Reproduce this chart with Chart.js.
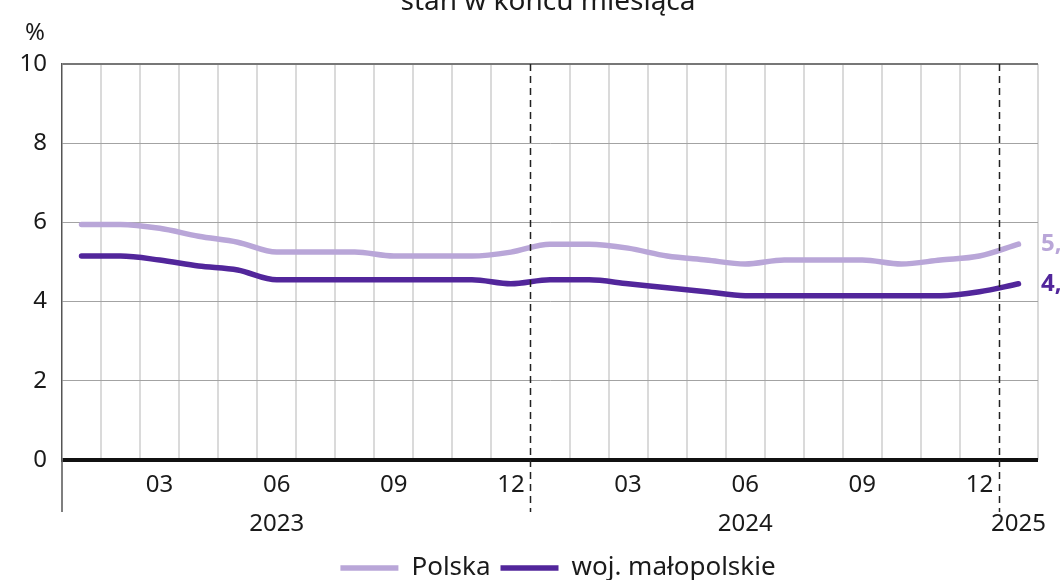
<!DOCTYPE html>
<html lang="pl">
<head>
<meta charset="utf-8">
<script src="https://cdn.jsdelivr.net/npm/chart.js@4.4.1/dist/chart.umd.min.js"></script>
<style>
  html, body { margin: 0; padding: 0; background: #fff; overflow: hidden; }
  #wrap { position: absolute; left: 0; top: -20px; width: 1116px; height: 620px; }
</style>
</head>
<body>
<div id="wrap"><canvas id="myChart" width="1116" height="620"></canvas></div>
<script>
// data
const categories = [
  '2023-01','2023-02','2023-03','2023-04','2023-05','2023-06','2023-07','2023-08','2023-09','2023-10','2023-11','2023-12',
  '2024-01','2024-02','2024-03','2024-04','2024-05','2024-06','2024-07','2024-08','2024-09','2024-10','2024-11','2024-12',
  '2025-01'
];
const monthTicks = ['03', '06', '09', '12'];
const yearTicks = ['2023-06', '2024-06', '2025-01'];
const polska =      [5.95, 5.95, 5.85, 5.65, 5.5, 5.25, 5.25, 5.25, 5.15, 5.15, 5.15, 5.25, 5.45, 5.45, 5.35, 5.15, 5.05, 4.95, 5.05, 5.05, 5.05, 4.95, 5.05, 5.15, 5.45];
const malopolskie = [5.15, 5.15, 5.05, 4.9, 4.8, 4.55, 4.55, 4.55, 4.55, 4.55, 4.55, 4.45, 4.55, 4.55, 4.45, 4.35, 4.25, 4.15, 4.15, 4.15, 4.15, 4.15, 4.15, 4.25, 4.45];
const yTicks = [0, 2, 4, 6, 8, 10];

const FONT = "'Noto Sans', sans-serif";
const TEXT = '#1a1a1a';
const LIGHT = '#b9a6d8';
const DARK = '#52269b';

// boundaries between december and january get a dashed line
const yearBreaks = categories.map((c, i) => (i > 0 && c.endsWith('-01')) ? i : -1).filter(i => i > 0);

const extras = {
  id: 'extras',
  beforeDraw(chart) {
    const ctx = chart.ctx;
    ctx.save();
    ctx.fillStyle = TEXT;
    ctx.textAlign = 'center';
    ctx.textBaseline = 'alphabetic';
    ctx.font = "28px " + FONT;
    ctx.fillText('stan w końcu miesiąca', 548, 30);
    ctx.font = "24px " + FONT;
    ctx.textBaseline = 'middle';
    ctx.fillText('%', 35, 53);
    ctx.restore();
  },
  afterDatasetsDraw(chart) {
    const {ctx, chartArea, scales: {x}} = chart;
    const bottom = 532;
    ctx.save();
    // left axis continues below zero
    ctx.strokeStyle = '#555';
    ctx.lineWidth = 1.5;
    ctx.beginPath();
    ctx.moveTo(chartArea.left, chartArea.bottom);
    ctx.lineTo(chartArea.left, bottom);
    ctx.stroke();
    // year separators
    ctx.strokeStyle = '#222';
    ctx.setLineDash([7, 5]);
    yearBreaks.forEach(i => {
      const px = Math.round(x.getPixelForValue(i - 0.5)) + 0.5;
      ctx.beginPath();
      ctx.moveTo(px, chartArea.top);
      ctx.lineTo(px, bottom);
      ctx.stroke();
    });
    ctx.setLineDash([]);
    // last values
    ctx.font = "bold 24px " + FONT;
    ctx.textAlign = 'left';
    ctx.textBaseline = 'middle';
    chart.data.datasets.forEach((ds, di) => {
      const meta = chart.getDatasetMeta(di);
      const pt = meta.data[meta.data.length - 1];
      const v = ds.data[ds.data.length - 1];
      ctx.fillStyle = ds.borderColor;
      ctx.fillText(v.toFixed(1).replace('.', ','), 1041, pt.y);
    });
    ctx.restore();
  }
};

const data = {
  labels: categories,
  datasets: [{
    label: 'Polska',
    data: polska,
    borderColor: LIGHT,
    backgroundColor: LIGHT,
    borderWidth: 5.5,
    borderCapStyle: 'round',
    borderJoinStyle: 'round',
    pointRadius: 0,
    cubicInterpolationMode: 'monotone'
  }, {
    label: 'woj. małopolskie',
    data: malopolskie,
    borderColor: DARK,
    backgroundColor: DARK,
    borderWidth: 5.5,
    borderCapStyle: 'round',
    borderJoinStyle: 'round',
    pointRadius: 0,
    cubicInterpolationMode: 'monotone'
  }]
};

const config = {
  type: 'line',
  data,
  options: {
    responsive: false,
    animation: false,
    devicePixelRatio: 1,
    layout: { padding: { top: 84, right: 0, left: 0, bottom: 9 } },
    plugins: {
      title: { display: false },
      tooltip: { enabled: false },
      legend: {
        position: 'bottom',
        labels: {
          usePointStyle: true,
          pointStyle: 'line',
          pointStyleWidth: 58,
          padding: 10,
          color: TEXT,
          font: { family: FONT, size: 26 }
        }
      }
    },
    scales: {
      x: {
        offset: true,
        grid: {
          offset: true,
          drawTicks: false,
          lineWidth: 2,
          color: c => (c.index === 0 || c.index >= categories.length || yearBreaks.includes(c.index)) ? 'rgba(0,0,0,0)' : '#dadada'
        },
        border: { display: false },
        ticks: {
          autoSkip: false,
          maxRotation: 0,
          padding: 6,
          color: TEXT,
          font: { family: FONT, size: 24, lineHeight: '39px' },
          callback: function (val, i) {
            const c = categories[i];
            const m = c.slice(5);
            return [monthTicks.includes(m) ? m : '', yearTicks.includes(c) ? c.slice(0, 4) : ''];
          }
        },
        afterFit: s => { s.height = 85; }
      },
      y: {
        min: yTicks[0],
        max: yTicks[yTicks.length - 1],
        afterBuildTicks: s => { s.ticks = yTicks.map(v => ({ value: v })); },
        grid: {
          drawTicks: false,
          color: c => c.tick.value === 0 ? '#111' : (c.tick.value === 10 ? '#777' : '#a3a3a3'),
          lineWidth: c => c.tick.value === 0 ? 4 : (c.tick.value === 10 ? 2 : 1)
        },
        border: { color: '#555', width: 1.5 },
        ticks: {
          padding: 15,
          color: TEXT,
          font: { family: FONT, size: 24 }
        },
        afterFit: s => { s.width = 62; }
      },
      // empty right-hand gutter that holds the end-value labels
      yRight: {
        position: 'right',
        min: yTicks[0],
        max: yTicks[yTicks.length - 1],
        grid: { display: false, drawTicks: false },
        border: { display: false },
        ticks: { display: false },
        afterFit: s => { s.width = 78; }
      }
    }
  },
  plugins: [extras]
};

const myChart = new Chart(document.getElementById('myChart'), config);
</script>
</body>
</html>
